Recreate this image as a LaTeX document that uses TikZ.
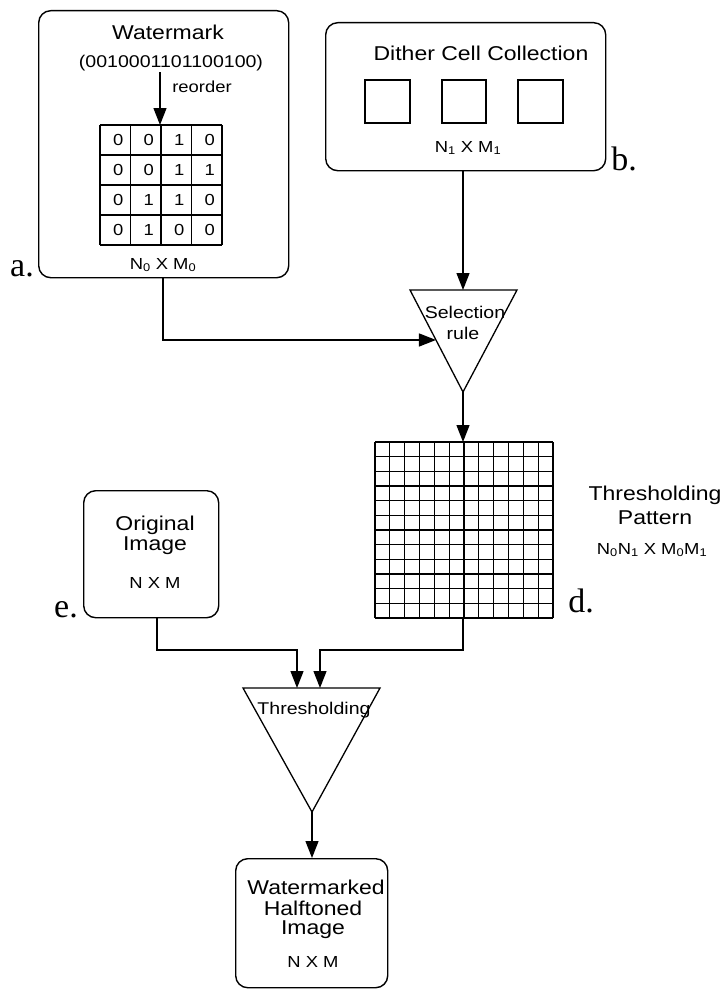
\documentclass[tikz,border=0pt]{standalone}
\usepackage{fontspec}
\setmainfont{Liberation Sans}[FakeStretch=1.15]
\newfontfamily\labfont{Liberation Serif}
\usetikzlibrary{arrows.meta,calc}
\begin{document}
\begin{tikzpicture}[x=1pt,y=-1pt,
  box/.style={draw,line width=1.4pt,rounded corners=12pt},
  conn/.style={line width=1.3pt,-{Triangle[length=17pt,width=13pt]}},
  gridline/.style={line width=1.3pt},
  title/.style={font=\fontsize{20}{22}\selectfont,inner sep=0pt},
  small/.style={font=\fontsize{16}{18}\selectfont,inner sep=0pt},
  lab/.style={font=\labfont\fontsize{34}{36}\selectfont,inner sep=0pt,anchor=base},
  tri/.style={draw,line width=1.3pt,line join=miter}]
\useasboundingbox (0,0) rectangle (726,990);

% ---- box a: watermark
\node[box,minimum width=250pt,minimum height=267pt,anchor=north west] (a) at (38,10) {};
\node[title] (wmt) at (168,32) {Watermark};
\node[small,font=\fontsize{17}{19}\selectfont] (bits) at (171,63) {(0010001101100100)};
\node[small] (reo) at (202,87) {reorder};
\foreach \i in {0,...,4}{
  \draw[gridline] (100+30.5*\i,125) -- (100+30.5*\i,245);
  \draw[gridline] (100,125+30*\i) -- (222,125+30*\i);
}
\coordinate (gtop) at (160,125);
\coordinate (btop) at (160,72);
\draw[conn] (btop) -- (gtop);
\foreach \r/\row in {0/{0,0,1,0},1/{0,0,1,1},2/{0,1,1,0},3/{0,1,0,0}}{
  \foreach \v [count=\c from 0] in \row {
    \node[small] (g\r\c) at (115.25+30.5*\c+3,140+30*\r) {\v};
  }
}
\node[small] (nm0) at (163,265) {N\textsubscript{0} X M\textsubscript{0}};
\node[lab] (la) at (22,276) {a.};

% ---- box b: dither cells
\node[box,minimum width=280pt,minimum height=148pt,anchor=north west] (b) at (325,22) {};
\node[title] (dct) at (481,53) {Dither Cell Collection};
\draw[line width=1.3pt] (365,80) rectangle (410,123);
\draw[line width=1.3pt] (442,80) rectangle (486,123);
\draw[line width=1.3pt] (518,80) rectangle (563,123);
\node[small] (nm1) at (468,148) {N\textsubscript{1} X M\textsubscript{1}};
\node[lab] (lb) at (624,170) {b.};

% ---- selection rule triangle
\coordinate (selL) at (410,290);
\coordinate (selR) at (517,290);
\coordinate (selB) at (463,392);
\coordinate (selT) at (463,290);
\draw[tri] (selL) -- (selR) -- (selB) -- cycle;
\node[small,font=\fontsize{17}{19}\selectfont] (selt1) at (465,312) {Selection};
\node[small,font=\fontsize{17}{19}\selectfont] (selt2) at (463,333) {rule};

\draw[conn] (b.south -| selT) -- (selT);
\coordinate (selIn) at ($(selL)!0.49!(selB)$);
\draw[conn] (a.south -| nm0) |- (selIn);

% ---- thresholding pattern grid
\foreach \i in {0,...,12}{
  \draw[gridline] (375+14.833*\i,442) -- (375+14.833*\i,618);
  \draw[gridline] (375,442+14.667*\i) -- (553,442+14.667*\i);
}
\coordinate (pgT) at (463,442);
\coordinate (pgB) at (463,618);
\draw[conn] (selB) -- (pgT);
\node[title] (tp1) at (655,495) {Thresholding};
\node[title] (tp2) at (655,518) {Pattern};
\node[small] (tp3) at (652,550) {N\textsubscript{0}N\textsubscript{1} X M\textsubscript{0}M\textsubscript{1}};
\node[lab] (ld) at (581,612) {d.};

% ---- original image
\node[box,minimum width=135pt,minimum height=127pt,anchor=north west] (e) at (83,490) {};
\node[title] (oi1) at (155,525) {Original};
\node[title] (oi2) at (155,546) {Image};
\node[small] (oi3) at (155,583) {N X M};
\node[lab] (le) at (66,617) {e.};

% ---- thresholding triangle
\coordinate (thL) at (243,688);
\coordinate (thR) at (380,688);
\coordinate (thB) at (312,812);
\draw[tri] (thL) -- (thR) -- (thB) -- cycle;
\node[small,font=\fontsize{17}{19}\selectfont] (tht) at (314,710) {Thresholding};
\coordinate (thIn1) at (297,688);
\coordinate (thIn2) at (320,688);
\coordinate (e1) at (157,650);
\coordinate (d1) at (463,650);
\draw[conn] (e.south -| e1) -- (e1) -| (thIn1);
\draw[conn] (pgB) -- (d1) -| (thIn2);

% ---- output
\node[box,minimum width=152pt,minimum height=129pt,anchor=north west] (o) at (235,858) {};
\draw[conn] (thB) -- (o.north -| thB);
\node[title] (w1) at (316,887) {Watermarked};
\node[title] (w2) at (313,908) {Halftoned};
\node[title] (w3) at (313,930) {Image};
\node[small] (w4) at (313,962) {N X M};
\end{tikzpicture}
\end{document}
